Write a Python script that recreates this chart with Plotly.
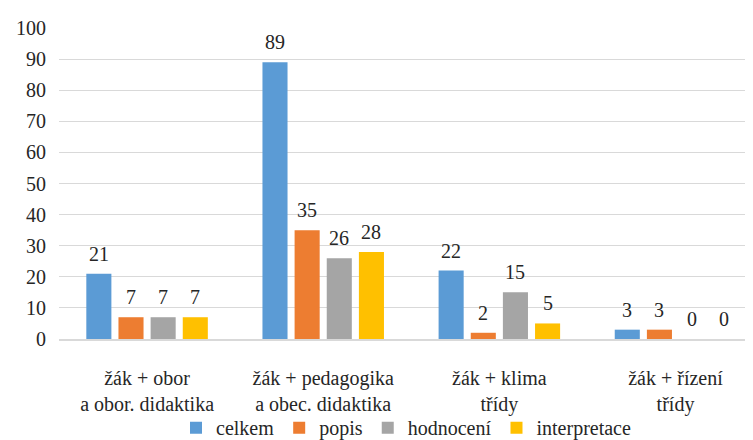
import plotly.graph_objects as go

categories = ["žák + obor<br>a obor. didaktika", "žák + pedagogika<br>a obec. didaktika",
              "žák + klima<br>třídy", "žák + řízení<br>třídy"]
series_names = ["celkem", "popis", "hodnocení", "interpretace"]
celkem = [21, 89, 22, 3]
popis = [7, 35, 2, 3]
hodnoceni = [7, 26, 15, 0]
interpretace = [7, 28, 5, 0]
colors = ["#5B9BD5", "#ED7D31", "#A5A5A5", "#FFC000"]
y_ticks = list(range(0, 101, 10))

font_family = "Times New Roman"
txt_color = "#262626"
fsize = 20
bargap = 0.27
fig = go.Figure()
all_vals = [celkem, popis, hodnoceni, interpretace]
for name, vals, col in zip(series_names, all_vals, colors):
    fig.add_trace(go.Bar(
        x=list(range(len(categories))), y=vals, name=name,
        marker=dict(color=col, line=dict(width=0)),
        cliponaxis=False,
    ))

# value labels placed above each bar, from the data
slot = (1 - bargap) / len(series_names)
for k, vals in enumerate(all_vals):
    for i, v in enumerate(vals):
        fig.add_annotation(x=i + (k - 1.5) * slot, y=v, xref="x", yref="y",
                           text=str(v), showarrow=False, yanchor="bottom",
                           yshift=7, font=dict(family=font_family, size=fsize, color=txt_color))

fig.update_layout(
    template="none",
    width=745, height=432,
    margin=dict(l=51, r=0, t=20, b=101, autoexpand=False),
    paper_bgcolor="white", plot_bgcolor="white",
    barmode="group", bargap=bargap, bargroupgap=0.22,
    font=dict(family=font_family, size=fsize, color=txt_color),
    showlegend=True,
    legend=dict(orientation="h", x=0.5, xanchor="center", y=-0.285, yanchor="middle",
                bgcolor="rgba(0,0,0,0)",
                font=dict(family=font_family, size=fsize, color=txt_color),
                itemwidth=30, tracegroupgap=0),
    xaxis=dict(tickmode="array", tickvals=list(range(len(categories))), ticktext=categories,
               range=[-0.5, 3.44], showgrid=False, showline=True, linecolor="#D9D9D9",
               linewidth=1.5, ticks="", automargin=False, ticklabelstandoff=20, zeroline=False,
               tickfont=dict(size=fsize, family=font_family, color=txt_color)),
    yaxis=dict(range=[0, 100], tickvals=y_ticks, showgrid=True, gridcolor="#D9D9D9",
               gridwidth=1.2, zeroline=False, showline=False, ticks="", automargin=False,
               tickfont=dict(size=fsize, family=font_family, color=txt_color), ticklabelstandoff=12),
)
fig.write_html("out.html")
